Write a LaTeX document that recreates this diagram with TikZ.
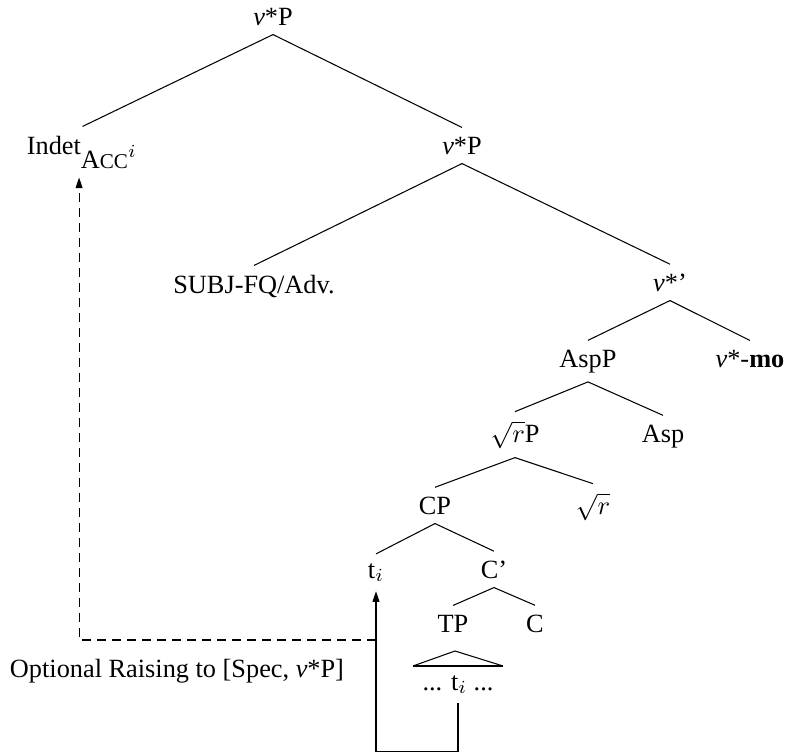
\documentclass[tikz,border=0pt]{standalone}
\usepackage{fontspec}
\setmainfont{Liberation Serif}
\usetikzlibrary{arrows.meta}
\tikzset{noeud/.style={anchor=base, inner sep=0.3333em},
	fleche/.style={-{Triangle[length=4pt,width=2.6pt]}}}

\begin{document}
\begin{tikzpicture}[x=0.38pt, y=-0.38pt]
	\useasboundingbox (0,0) rectangle (788,752);
	% les etiquettes de l'arbre (ligne de base)
	\node[noeud] (vtop) at (273,25) {\textit{v}*P};
	\node[noeud] (indet) at (82.5,154) {Indet$_{\mbox{A{\footnotesize CC}}^{\scriptstyle i}}$};
	\node[noeud] (vmid) at (462,154) {\textit{v}*P};
	\node[noeud] (subj) at (254,293) {SUBJ-FQ/Adv.};
	\node[noeud] (vbar) at (670,291) {\textit{v}*'};
	\node[noeud] (aspp) at (588,367) {AspP};
	\node[noeud] (vmo) at (750,367) {\textit{v}*-\textbf{mo}};
	\node[noeud] (rootp) at (515,442) {$\sqrt{r}$P};
	\node[noeud] (asp) at (663,442) {Asp};
	\node[noeud] (cp) at (435,514) {CP};
	\node[noeud] (root) at (593,514) {$\sqrt{r}$};
	\node[noeud] (ti) at (376,578) {$\mathrm{t}_i$};
	\node[noeud] (cbar) at (494,578) {C'};
	\node[noeud] (tp) at (453,632) {TP};
	\node[noeud] (c) at (535,632) {C};
	\node[noeud] (low) at (458,690) {... $\mathrm{t}_i$ ...};
	\node[noeud] (raising) at (177,677) {Optional Raising to [Spec, \textit{v}*P]};
	% les branches
	\draw (vtop.south) edge (indet.north) edge (vmid.north);
	\draw (vmid.south) edge (subj.north) edge (vbar.north);
	\draw (vbar.south) edge (aspp.north) edge (vmo.north);
	\draw (aspp.south) edge (rootp.north) edge (asp.north);
	\draw (rootp.south) edge (cp.north) edge (root.north);
	\draw (cp.south) edge (ti.north) edge (cbar.north);
	\draw (cbar.south) edge (tp.north) edge (c.north);
	% le triangle sous TP
	\coordinate (toit) at (455,651);
	\draw (low.north west) -- (toit) -- (low.north east);
	\draw[line width=0.8pt] (low.north west) -- (low.north east);
	% les deux mouvements
	\draw[fleche] (low.south) -- ++(0,48) -| (ti.south);
	\coordinate (depart) at (376,640);
	\draw[fleche, dash pattern=on 3.4pt off 2.3pt] (depart) -| ([xshift=-1.3pt]indet.south);
\end{tikzpicture}
\end{document}
